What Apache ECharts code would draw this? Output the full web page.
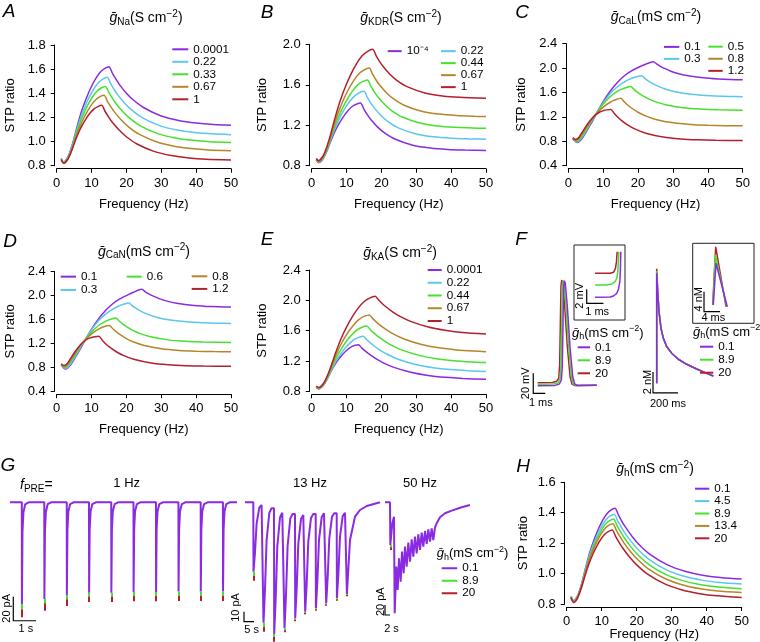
<!DOCTYPE html>
<html><head><meta charset="utf-8">
<script src="https://cdn.jsdelivr.net/npm/echarts@6/dist/echarts.min.js"></script>
<style>html,body{margin:0;padding:0;background:#fff}#c{width:760px;height:642px}</style>
</head><body><div id="c"></div>
<script>
// ================= DATA =================
// STP ratio vs stimulation frequency (Hz): [frequency, ratio]
const NA_LEVELS = ['0.0001','0.22','0.33','0.67','1'];
const NA_0_0001 = [[1.3,0.86],[2,0.83],[3.3,0.877],[4.6,0.988],[5.9,1.13],[7.2,1.257],[8.5,1.359],[9.8,1.446],[11.1,1.517],[12.4,1.573],[13.7,1.604],[15,1.62],[16,1.565],[17,1.517],[18,1.472],[20,1.401],[22,1.344],[25,1.28],[30,1.212],[35,1.175],[40,1.154],[45,1.142],[50,1.136]];
const NA_0_22 = [[1.3,0.86],[2,0.83],[3.25,0.872],[4.5,0.97],[5.75,1.097],[7,1.209],[8.25,1.3],[9.5,1.378],[10.75,1.441],[12,1.49],[13.25,1.518],[14.5,1.532],[15.5,1.478],[16.5,1.431],[17.5,1.387],[19.5,1.318],[21.5,1.262],[24.5,1.198],[29.5,1.132],[34.5,1.096],[39.5,1.076],[44.5,1.064],[50,1.057]];
const NA_0_33 = [[1.3,0.855],[2,0.825],[3.2,0.863],[4.4,0.951],[5.6,1.065],[6.8,1.166],[8,1.248],[9.2,1.318],[10.4,1.375],[11.6,1.419],[12.8,1.444],[14,1.457],[15,1.405],[16,1.358],[17,1.315],[19,1.247],[21,1.192],[24,1.13],[29,1.066],[34,1.03],[39,1.01],[44,0.999],[50,0.992]];
const NA_0_67 = [[1.3,0.85],[2,0.82],[3.16,0.854],[4.32,0.933],[5.48,1.034],[6.64,1.124],[7.8,1.197],[8.96,1.259],[10.12,1.31],[11.28,1.349],[12.44,1.372],[13.6,1.383],[14.6,1.331],[15.6,1.285],[16.6,1.244],[18.6,1.176],[20.6,1.122],[23.6,1.061],[28.6,0.998],[33.6,0.962],[38.6,0.943],[43.6,0.931],[50,0.924]];
const NA_1 = [[1.3,0.85],[2,0.82],[3.09,0.849],[4.18,0.916],[5.27,1.002],[6.36,1.079],[7.45,1.142],[8.54,1.194],[9.63,1.238],[10.72,1.271],[11.81,1.29],[12.9,1.3],[13.9,1.249],[14.9,1.203],[15.9,1.162],[17.9,1.095],[19.9,1.042],[22.9,0.982],[27.9,0.919],[32.9,0.884],[37.9,0.864],[42.9,0.853],[50,0.847]];

const KDR_LEVELS = ['10⁻⁴','0.22','0.44','0.67','1'];
const KDR_1E4 = [[1.3,0.855],[2,0.83],[3.2,0.865],[4.4,0.948],[5.6,1.054],[6.8,1.149],[8,1.225],[9.2,1.29],[10.4,1.343],[11.6,1.385],[12.8,1.408],[14,1.42],[15,1.357],[16,1.302],[17,1.255],[19,1.179],[21,1.122],[24,1.061],[29,1.003],[34,0.975],[39,0.961],[44,0.955],[50,0.951]];
const KDR_0_22 = [[1.3,0.86],[2,0.835],[3.3,0.877],[4.6,0.975],[5.9,1.101],[7.2,1.213],[8.5,1.304],[9.8,1.381],[11.1,1.444],[12.4,1.493],[13.7,1.521],[15,1.535],[16,1.472],[17,1.416],[18,1.369],[20,1.292],[22,1.234],[25,1.172],[30,1.114],[35,1.085],[40,1.071],[45,1.065],[50,1.061]];
const KDR_0_44 = [[1.3,0.86],[2,0.84],[3.4,0.888],[4.8,1.001],[6.2,1.147],[7.6,1.276],[9,1.381],[10.4,1.469],[11.8,1.542],[13.2,1.599],[14.6,1.631],[16,1.647],[17,1.583],[18,1.527],[19,1.479],[21,1.402],[23,1.343],[26,1.281],[31,1.222],[36,1.193],[41,1.179],[46,1.173],[50,1.169]];
const KDR_0_67 = [[1.3,0.865],[2,0.845],[3.45,0.9],[4.9,1.029],[6.35,1.195],[7.8,1.342],[9.25,1.462],[10.7,1.563],[12.15,1.646],[13.6,1.711],[15.05,1.748],[16.5,1.766],[17.5,1.702],[18.5,1.645],[19.5,1.597],[21.5,1.519],[23.5,1.46],[26.5,1.398],[31.5,1.339],[36.5,1.31],[41.5,1.296],[46.5,1.289],[50,1.286]];
const KDR_1 = [[1.3,0.87],[2,0.85],[3.55,0.916],[5.1,1.07],[6.65,1.268],[8.2,1.444],[9.75,1.587],[11.3,1.708],[12.85,1.807],[14.4,1.884],[15.95,1.928],[17.5,1.95],[18.5,1.885],[19.5,1.828],[20.5,1.78],[22.5,1.701],[24.5,1.642],[27.5,1.579],[32.5,1.519],[37.5,1.49],[42.5,1.476],[50,1.467]];

const CAL_LEVELS = ['0.1','0.3','0.5','0.8','1.2'];
const CAL_0_1 = [[1.3,0.84],[2,0.8],[2.5,0.78],[3,0.79],[4,0.85],[5,0.94],[6,1.04],[7,1.14],[8,1.25],[10,1.45],[12,1.62],[14,1.76],[16,1.87],[18,1.95],[20,2.01],[22,2.06],[24.4,2.105],[25.4,2.064],[26.4,2.029],[27.4,1.999],[29.4,1.949],[31.4,1.912],[34.4,1.873],[39.4,1.836],[44.4,1.817],[50,1.808]];
const CAL_0_3 = [[1.3,0.84],[2,0.805],[2.4,0.79],[3,0.8],[4,0.87],[5,0.96],[6,1.06],[7,1.16],[8,1.25],[10,1.43],[12,1.58],[14,1.69],[16,1.77],[18,1.83],[21,1.875],[22,1.828],[23,1.788],[24,1.753],[26,1.697],[28,1.654],[31,1.609],[36,1.566],[41,1.545],[46,1.535],[50,1.531]];
const CAL_0_5 = [[1.3,0.845],[2,0.81],[2.3,0.8],[3,0.82],[4,0.89],[5,0.98],[6,1.08],[7,1.17],[8,1.25],[10,1.41],[12,1.53],[14,1.62],[16,1.67],[17.9,1.7],[18.9,1.647],[19.9,1.602],[20.9,1.562],[22.9,1.499],[24.9,1.45],[27.9,1.4],[32.9,1.351],[37.9,1.328],[42.9,1.316],[50,1.309]];
const CAL_0_8 = [[1.3,0.85],[2,0.815],[2.2,0.81],[3,0.84],[4,0.92],[5,1.01],[6,1.1],[7,1.18],[8,1.25],[10,1.36],[12,1.44],[13.5,1.48],[15.1,1.504],[16.1,1.444],[17.1,1.391],[18.1,1.346],[20.1,1.272],[22.1,1.217],[25.1,1.159],[30.1,1.103],[35.1,1.076],[40.1,1.063],[45.1,1.056],[50,1.053]];
const CAL_1_2 = [[1.3,0.86],[2,0.83],[3,0.86],[4,0.95],[5,1.04],[6,1.12],[7,1.19],[8,1.24],[9,1.28],[10,1.3],[11,1.315],[12.2,1.323],[13.2,1.255],[14.2,1.195],[15.2,1.144],[17.2,1.061],[19.2,0.999],[22.2,0.933],[27.2,0.87],[32.2,0.839],[37.2,0.824],[42.2,0.817],[50,0.813]];

const CAN_LEVELS = ['0.1','0.3','0.6','0.8','1.2'];
const CAN_0_1 = [[1.3,0.84],[2,0.79],[2.5,0.77],[3,0.78],[4,0.84],[5,0.93],[6,1.03],[7,1.13],[8,1.24],[10,1.44],[12,1.61],[14,1.75],[16,1.86],[18,1.94],[20,2.0],[22,2.055],[24.4,2.105],[25.4,2.064],[26.4,2.029],[27.4,1.999],[29.4,1.949],[31.4,1.912],[34.4,1.873],[39.4,1.836],[44.4,1.817],[50,1.808]];
const CAN_0_3 = [[1.3,0.84],[2,0.8],[2.4,0.785],[3,0.795],[4,0.86],[5,0.95],[6,1.05],[7,1.15],[8,1.25],[10,1.43],[12,1.58],[14,1.69],[16,1.77],[18,1.83],[20.7,1.876],[21.7,1.829],[22.7,1.789],[23.7,1.754],[25.7,1.698],[27.7,1.655],[30.7,1.61],[35.7,1.569],[40.7,1.548],[45.7,1.538],[50,1.534]];
const CAN_0_6 = [[1.3,0.845],[2,0.81],[2.3,0.8],[3,0.82],[4,0.89],[5,0.98],[6,1.08],[7,1.17],[8,1.25],[10,1.39],[12,1.5],[14,1.57],[15.5,1.605],[17,1.625],[18,1.57],[19,1.522],[20,1.48],[22,1.413],[24,1.363],[27,1.31],[32,1.259],[37,1.234],[42,1.222],[50,1.214]];
const CAN_0_8 = [[1.3,0.85],[2,0.815],[2.2,0.81],[3,0.84],[4,0.92],[5,1.01],[6,1.1],[7,1.18],[8,1.25],[10,1.36],[12,1.44],[13.5,1.48],[15.1,1.5],[16.1,1.444],[17.1,1.393],[18.1,1.349],[20.1,1.277],[22.1,1.223],[25.1,1.165],[30.1,1.11],[35.1,1.083],[40.1,1.07],[45.1,1.063],[50,1.06]];
const CAN_1_2 = [[1.3,0.86],[2,0.83],[3,0.86],[4,0.95],[5,1.04],[6,1.12],[7,1.19],[8,1.24],[9,1.28],[10,1.3],[11,1.312],[12.1,1.318],[13.1,1.25],[14.1,1.191],[15.1,1.141],[17.1,1.06],[19.1,0.999],[22.1,0.934],[27.1,0.872],[32.1,0.842],[37.1,0.827],[42.1,0.82],[50,0.817]];

const KA_LEVELS = ['0.0001','0.22','0.44','0.67','1'];
const KA_0_0001 = [[1.3,0.855],[2,0.83],[3.14,0.865],[4.28,0.947],[5.42,1.052],[6.56,1.146],[7.7,1.222],[8.84,1.286],[9.98,1.339],[11.12,1.38],[12.26,1.403],[13.4,1.415],[14.4,1.37],[15.4,1.33],[16.4,1.294],[18.4,1.231],[20.4,1.179],[23.4,1.119],[28.4,1.051],[33.4,1.009],[38.4,0.984],[43.4,0.969],[50,0.958]];
const KA_0_22 = [[1.3,0.86],[2,0.835],[3.28,0.876],[4.56,0.973],[5.84,1.097],[7.12,1.208],[8.4,1.297],[9.68,1.373],[10.96,1.435],[12.24,1.484],[13.52,1.511],[14.8,1.525],[15.8,1.48],[16.8,1.438],[17.8,1.401],[19.8,1.337],[21.8,1.285],[24.8,1.223],[29.8,1.154],[34.8,1.112],[39.8,1.086],[44.8,1.071],[50,1.061]];
const KA_0_44 = [[1.3,0.86],[2,0.84],[3.38,0.889],[4.76,1.004],[6.14,1.152],[7.52,1.283],[8.9,1.389],[10.28,1.48],[11.66,1.553],[13.04,1.611],[14.42,1.644],[15.8,1.66],[16.8,1.613],[17.8,1.57],[18.8,1.531],[20.8,1.465],[22.8,1.41],[25.8,1.346],[30.8,1.274],[35.8,1.23],[40.8,1.204],[45.8,1.188],[50,1.18]];
const KA_0_67 = [[1.3,0.865],[2,0.845],[3.45,0.903],[4.9,1.037],[6.35,1.211],[7.8,1.364],[9.25,1.49],[10.7,1.595],[12.15,1.682],[13.6,1.749],[15.05,1.788],[16.5,1.807],[17.5,1.759],[18.5,1.716],[19.5,1.677],[21.5,1.61],[23.5,1.554],[26.5,1.49],[31.5,1.417],[36.5,1.373],[41.5,1.346],[46.5,1.33],[50,1.323]];
const KA_1 = [[1.3,0.87],[2,0.85],[3.62,0.922],[5.24,1.091],[6.86,1.307],[8.48,1.5],[10.1,1.656],[11.72,1.788],[13.34,1.897],[14.96,1.981],[16.58,2.029],[18.2,2.053],[19.2,2.004],[20.2,1.959],[21.2,1.919],[23.2,1.849],[25.2,1.792],[28.2,1.726],[33.2,1.651],[38.2,1.605],[43.2,1.577],[50,1.556]];

const H_LEVELS = ['0.1','4.5','8.9','13.4','20'];
const H_0_1 = [[1.2,0.85],[2,0.82],[3.18,0.857],[4.36,0.942],[5.54,1.051],[6.72,1.149],[7.9,1.228],[9.08,1.295],[10.26,1.35],[11.44,1.392],[12.62,1.417],[13.8,1.429],[14.8,1.384],[15.8,1.342],[16.8,1.305],[18.8,1.241],[20.8,1.188],[23.8,1.126],[28.8,1.057],[33.8,1.015],[38.8,0.989],[43.8,0.974],[50,0.964]];
const H_4_5 = [[1.2,0.85],[2,0.82],[3.16,0.854],[4.32,0.934],[5.48,1.037],[6.64,1.128],[7.8,1.202],[8.96,1.265],[10.12,1.316],[11.28,1.356],[12.44,1.379],[13.6,1.39],[14.6,1.345],[15.6,1.305],[16.6,1.268],[18.6,1.205],[20.6,1.153],[23.6,1.092],[28.6,1.023],[33.6,0.982],[38.6,0.957],[43.6,0.942],[50,0.932]];
const H_8_9 = [[1.2,0.845],[2,0.815],[3.14,0.848],[4.28,0.924],[5.42,1.022],[6.56,1.109],[7.7,1.179],[8.84,1.239],[9.98,1.288],[11.12,1.326],[12.26,1.348],[13.4,1.359],[14.4,1.314],[15.4,1.274],[16.4,1.237],[18.4,1.174],[20.4,1.122],[23.4,1.061],[28.4,0.993],[33.4,0.952],[38.4,0.927],[43.4,0.912],[50,0.901]];
const H_13_4 = [[1.2,0.845],[2,0.815],[3.12,0.846],[4.24,0.918],[5.36,1.01],[6.48,1.092],[7.6,1.159],[8.72,1.215],[9.84,1.261],[10.96,1.297],[12.08,1.318],[13.2,1.328],[14.2,1.284],[15.2,1.244],[16.2,1.207],[18.2,1.145],[20.2,1.094],[23.2,1.033],[28.2,0.966],[33.2,0.925],[38.2,0.9],[43.2,0.885],[50,0.875]];
const H_20 = [[1.2,0.84],[2,0.81],[3.1,0.839],[4.2,0.905],[5.3,0.991],[6.4,1.067],[7.5,1.129],[8.6,1.181],[9.7,1.224],[10.8,1.257],[11.9,1.276],[13,1.286],[14,1.243],[15,1.204],[16,1.168],[18,1.107],[20,1.057],[23,0.998],[28,0.932],[33,0.892],[38,0.868],[43,0.854],[50,0.843]];

// Panel F: presynaptic AP [ms, mV], inset foot [ms, mV rel.], Ca transient [ms, nM], inset peak [ms, nM]
const GH_LEVELS = ['0.1','8.9','20'];
const F_AP_01 = [[0,-70],[1.44,-69.7],[1.8,-68.3],[1.97,-64.3],[2.05,-51],[2.11,-7.6],[2.16,29],[2.22,35],[2.3,32.4],[2.47,9],[2.69,-31],[2.92,-61],[3.08,-68.3],[3.3,-69.8],[4.92,-69.6]];
const F_AP_89 = [[0,-68.5],[1.33,-68.3],[1.69,-67],[1.86,-63.5],[1.94,-50],[2.0,-7],[2.05,29],[2.11,35.3],[2.19,32.6],[2.36,9],[2.58,-31],[2.81,-61],[2.97,-68.4],[3.19,-69.8],[4.92,-69.6]];
const F_AP_20 = [[0,-67],[1.22,-66.8],[1.58,-65.6],[1.75,-62.5],[1.83,-49],[1.89,-6.5],[1.94,29.5],[2.0,35.7],[2.08,33],[2.25,9.5],[2.47,-31],[2.7,-61],[2.86,-68.5],[3.08,-69.8],[4.92,-69.6]];
const F_FOOT_01 = [[0.5,0],[1.4,0.04],[1.6,0.19],[1.8,0.57],[1.9,1.14],[1.98,2.23],[2.01,3.66],[2.04,6.5]];
const F_FOOT_89 = [[0.5,1.76],[1.2,1.76],[1.5,1.9],[1.7,2.23],[1.8,2.71],[1.86,3.66],[1.9,5.33],[1.92,6.5]];
const F_FOOT_20 = [[0.5,3.43],[1.4,3.43],[1.6,3.57],[1.72,4.14],[1.78,5.09],[1.82,6.5]];
const F_CA_01 = [[133.6,0],[133.6,10.48],[141.6,8.72],[152,6.82],[168,5.24],[186.4,4.29],[213.6,3.49],[253.6,2.86],[306.4,2.29],[373.6,1.81],[453.6,1.36],[533.6,0.95],[586.4,0.7]];
const F_CA_89 = [[133.6,0],[133.6,10.7],[141.6,8.76],[152,6.84],[168,5.25],[186.4,4.3],[213.6,3.49],[253.6,2.86],[306.4,2.29],[373.6,1.81],[453.6,1.36],[533.6,0.95],[586.4,0.7]];
const F_CA_20 = [[133.6,0],[133.6,10.9],[141.6,8.8],[152,6.86],[168,5.26],[186.4,4.3],[213.6,3.5],[253.6,2.86],[306.4,2.29],[373.6,1.81],[453.6,1.36],[533.6,0.95],[586.4,0.7]];
const F_PEAK_01 = [[5.15,3.66],[5.83,12],[8.65,3.32]];
const F_PEAK_89 = [[5.08,3.66],[5.65,13.8],[8.5,3.32]];
const F_PEAK_20 = [[5.0,3.66],[5.75,15.3],[8.33,3.32]];

// Panel G: EPSC trains [s, pA]
const G1_TRACE_01 = [[0,0],
 [0.52,0],[0.525,-84.7],[0.55,-25.4],[0.59,-8.5],[0.67,-1.7],[0.82,0],
 [1.51,0],[1.515,-80.6],[1.54,-24.2],[1.58,-8.1],[1.66,-1.6],[1.81,0],
 [2.5,0],[2.505,-77.2],[2.53,-23.2],[2.57,-7.7],[2.65,-1.5],[2.8,0],
 [3.48,0],[3.485,-75.3],[3.51,-22.6],[3.55,-7.5],[3.63,-1.5],[3.78,0],
 [4.46,0],[4.465,-75.3],[4.49,-22.6],[4.53,-7.5],[4.61,-1.5],[4.76,0],
 [5.44,0],[5.445,-74.7],[5.47,-22.4],[5.51,-7.5],[5.59,-1.5],[5.74,0],
 [6.43,0],[6.435,-74.7],[6.46,-22.4],[6.5,-7.5],[6.58,-1.5],[6.73,0],
 [7.42,0],[7.425,-74.4],[7.45,-22.3],[7.49,-7.4],[7.57,-1.5],[7.72,0],
 [8.4,0],[8.405,-74.4],[8.43,-22.3],[8.47,-7.4],[8.55,-1.5],[8.7,0],
 [9.38,0],[9.385,-74.4],[9.41,-22.3],[9.45,-7.4],[9.53,-1.5],[9.68,0],[10,0]];
const G1_TIP_T = [0.525,1.515,2.505,3.485,4.465,5.445,6.435,7.425,8.405,9.385];
const G1_TIP_01 = [-84.7,-80.6,-77.2,-75.3,-75.3,-74.7,-74.7,-74.4,-74.4,-74.4];
const G1_TIP_89 = [-89.2,-84.2,-80.8,-78.6,-78.6,-78,-78,-77.8,-77.8,-77.8];
const G1_TIP_20 = [-95.8,-90.3,-86.4,-83,-83,-82.5,-82.5,-82.2,-82.2,-82.2];

const G13_TRACE_01 = [[0,0],
 [4.15,0],[4.25,-69.4],[5,-50.1],[5.8,-21.4],[7.15,-5.4],[8.3,-2.7],
 [9.15,-2.7],[9.25,-120.4],[10,-87.2],[10.8,-38],[12.15,-10.6],[13.3,-6],
 [14.5,-6],[14.6,-131.7],[15.35,-96.5],[16.15,-44.4],[17.5,-15.2],[18.65,-10.4],
 [19.65,-10.4],[19.75,-126],[20.5,-92.9],[21.3,-43.7],[22.65,-16.3],[23.8,-11.7],
 [25,-11.7],[25.1,-116],[25.85,-86],[26.65,-41.6],[28,-16.8],[29.15,-12.7],
 [30,-12.7],[30.1,-109.4],[30.85,-81.1],[31.65,-39.1],[33,-15.6],[34.15,-11.7],
 [35.35,-11.7],[35.45,-106],[36.2,-78.4],[37,-37.6],[38.35,-14.8],[39.5,-11],
 [40.5,-11],[40.6,-101],[41.35,-74.9],[42.15,-36.2],[43.5,-14.6],[44.65,-11],
 [45.85,-11],[45.95,-96],[46.7,-71.2],[47.5,-34.4],[48.85,-13.8],[50,-10.4],
 [50.85,-10.4],[50.95,-91.7],[52.5,-37.7],[55,-14.4],[57.5,-7.7],[60.85,-3.7],[66.65,-0.4],[67.5,0]];
const G13_TIP_T = [4.25,9.25,14.6,19.75,25.1,30.1,35.45,40.6,45.95,50.95];
const G13_TIP_01 = [-69.4,-120.4,-131.7,-126,-116,-109.4,-106,-101,-96,-91.7];
const G13_TIP_89 = [-73.7,-124.4,-134.4,-128,-117.5,-110.5,-107,-102,-97,-92.7];
const G13_TIP_20 = [-78.4,-129.4,-139.4,-130,-119,-112,-108.5,-103.5,-98.5,-94];

const G50_TRACE_01 = [[0,0],[2,0],[2.13,-85.4],[2.93,-42.1],[3.6,-28.7],[3.87,-222],[4.53,-128.7],[5.07,-175.4],[5.6,-112],[6.27,-158.7],[6.8,-98.7],[7.47,-142],[8,-88.7],[8.67,-128.7],[9.33,-80.7],[10,-118.7],[10.67,-74],[11.33,-108.7],[12,-68.7],[12.67,-102],[13.33,-64],[14,-95.4],[14.67,-60.7],[15.33,-88.7],[16,-57.4],[16.67,-83.4],[17.33,-54],[18,-78.7],[18.67,-52],[19.33,-75.4],[20,-50],[20.67,-42],[22,-30],[24,-22],[26.67,-16.7],[30.67,-10],[34,-5.4]];
const G50_TIP_T = [2.13];
const G50_TIP_01 = [-85.4];
const G50_TIP_89 = [-90.1];
const G50_TIP_20 = [-95.4];

// scale bars: [x, y] corner points in each panel's units
const SB_F_AP = [[-0.37,-57.6],[-0.37,-77.6],[0.63,-77.6]];     // 20 mV, 1 ms
const SB_F_FOOT = [[0,1.14],[0,-0.86],[1,-0.86]];              // 2 mV, 1 ms
const SB_F_CA = [[104,1.08],[104,-0.92],[304,-0.92]];          // 2 nM, 200 ms
const SB_F_PEAK = [[2.83,6.32],[2.83,2.32],[6.83,2.32]];       // 4 nM, 4 ms
const SB_G1 = [[0.145,-78.7],[0.145,-98.7],[1.145,-98.7]];     // 20 pA, 1 s
const SB_G13 = [[-0.5,-109.4],[-0.5,-119.4],[4.5,-119.4]];     // 10 pA, 5 s
const SB_G50 = [[0,-205.4],[0,-225.4],[2,-225.4]];             // 20 pA, 2 s

// ================= CHART =================
const FONT = '"Liberation Sans", Arial, Helvetica, sans-serif';
const C5 = ['#8a2be2','#5bc6ee','#46e02e','#b5852a','#b51e2e'];
const C3 = [C5[0], C5[2], C5[4]];
const grids=[], xAxes=[], yAxes=[], series=[], legends=[], graphics=[];

const axLine = {show:true, onZero:false, lineStyle:{color:'#000', width:1}};
const axTick = {show:true, length:4, inside:false, lineStyle:{color:'#000', width:1}};
const txtSt = {color:'#000', fontSize:13, fontFamily:FONT};

function stpPanel(box, yr, names, datas, yGap, xGap){
  const gi = grids.length;
  grids.push({left:box[0], top:box[1], width:box[2], height:box[3], containLabel:false, outerBoundsMode:'none'});
  xAxes.push({gridIndex:gi, type:'value', min:0, max:50, interval:10, offset:3,
    axisLine:axLine, axisTick:axTick, splitLine:{show:false},
    axisLabel:Object.assign({margin:8}, txtSt),
    name:'Frequency (Hz)', nameLocation:'middle', nameGap:xGap, nameMoveOverlap:false, nameTextStyle:txtSt});
  yAxes.push({gridIndex:gi, type:'value', min:yr[0], max:yr[1], interval:yr[2], offset:2,
    axisLine:axLine, axisTick:axTick, splitLine:{show:false},
    axisLabel:Object.assign({margin:9, formatter:v=>v.toFixed(1)}, txtSt),
    name:'STP ratio', nameLocation:'middle', nameGap:yGap, nameMoveOverlap:false, nameTextStyle:txtSt});
  names.forEach((n,i)=>series.push({type:'line', name:n, xAxisIndex:gi, yAxisIndex:gi, data:datas[i],
    symbol:'none', showSymbol:false, smooth:0.25, lineStyle:{color:C5[i], width:1.5}, itemStyle:{color:C5[i]}, z:2}));
}
function rawGrid(box, xr, yr, border){
  const gi = grids.length;
  grids.push({left:box[0], top:box[1], width:box[2], height:box[3], containLabel:false, outerBoundsMode:'none',
    show:!!border, borderColor:'#222', borderWidth:1, backgroundColor:'rgba(0,0,0,0)'});
  xAxes.push({gridIndex:gi, type:'value', min:xr[0], max:xr[1], show:false});
  yAxes.push({gridIndex:gi, type:'value', min:yr[0], max:yr[1], show:false});
  return gi;
}
function trace(gi, name, data, color, w){
  series.push({type:'line', name, xAxisIndex:gi, yAxisIndex:gi, data, symbol:'none', showSymbol:false,
    lineStyle:{color, width:w}, itemStyle:{color}, z:3});
}
function segs(gi, list, color, w, poly){
  series.push({type:'lines', coordinateSystem:'cartesian2d', xAxisIndex:gi, yAxisIndex:gi, polyline:!!poly,
    data:list.map(c=>({coords:c})), lineStyle:{color, width:w, opacity:1, curveness:0}, silent:true, z:4});
}
function tips(gi, T, P, G, R, w){
  segs(gi, T.map((t,i)=>[[t,P[i]],[t,G[i]]]), C3[1], w);
  segs(gi, T.map((t,i)=>[[t,G[i]],[t,R[i]]]), C3[2], w);
}
function leg(names, left, top, lh, iw){
  legends.push({data:names, left, top, orient:'vertical', itemWidth:iw, itemHeight:2, itemGap:0, icon:'rect',
    padding:0, selectedMode:false, itemStyle:{borderWidth:0},
    textStyle:{color:'#000', fontSize:11.7, lineHeight:lh, fontFamily:FONT}});
}
function txt(x, y, text, size, o){
  o = o || {};
  graphics.push({type:'text', x, y, rotation:o.rot||0, silent:true, z:100,
    style:{text, fill:'#000', font:(o.italic?'italic ':'')+size+'px '+FONT, textAlign:o.align||'center', textVerticalAlign:'middle'}});
}
function gTitle(x, y, sub, unit, size, align){
  const ss = Math.round(size*0.72);
  const base = {fontSize:size, fontFamily:FONT, fill:'#000', lineHeight:size+4};
  graphics.push({type:'text', x, y, silent:true, z:100,
    style:{text:'{g|ḡ}{s|'+sub+'}{n|('+unit+' cm}{p|−2}{n|)}', textAlign:align||'center', textVerticalAlign:'middle',
      rich:{g:Object.assign({fontStyle:'italic'}, base), n:base,
        s:{fontSize:ss, fontFamily:FONT, fill:'#000', lineHeight:ss, verticalAlign:'bottom'},
        p:{fontSize:ss, fontFamily:FONT, fill:'#000', lineHeight:ss, verticalAlign:'top'}}}});
}

// STP panels A-E, H
stpPanel([56.7,45,174.3,120.7],[0.8,1.8,0.2], NA_LEVELS, [NA_0_0001,NA_0_22,NA_0_33,NA_0_67,NA_1], 38, 29);
stpPanel([311.7,44.3,174.3,121.4],[0.8,2.0,0.4], KDR_LEVELS, [KDR_1E4,KDR_0_22,KDR_0_44,KDR_0_67,KDR_1], 41, 29);
stpPanel([568.3,43.7,174.4,122],[0.4,2.4,0.4], CAL_LEVELS, [CAL_0_1,CAL_0_3,CAL_0_5,CAL_0_8,CAL_1_2], 38, 29);
stpPanel([56.7,271.7,174.3,119.5],[0.4,2.4,0.4], CAN_LEVELS, [CAN_0_1,CAN_0_3,CAN_0_6,CAN_0_8,CAN_1_2], 38, 29);
stpPanel([311.7,270,174.3,121.3],[0.8,2.4,0.4], KA_LEVELS, [KA_0_0001,KA_0_22,KA_0_44,KA_0_67,KA_1], 41, 29);
stpPanel([566.7,482.3,175,121.7],[0.8,1.6,0.2], H_LEVELS, [H_0_1,H_4_5,H_8_9,H_13_4,H_20], 35, 21);

// Panel F
const gAP = rawGrid([525.7,275.7,78,140],[-1,5.5],[-100,40]);
const gFoot = rawGrid([574,245,51,75],[-0.76,2.29],[-3.24,7.47], true);
const gCa = rawGrid([640,257.3,80,147],[0,640],[-2,12]);
const gPeak = rawGrid([692.7,243.3,61.3,80],[0,15.33],[0,16], true);
[[F_AP_20,2],[F_AP_89,1],[F_AP_01,0]].forEach(([d,i])=>trace(gAP, GH_LEVELS[i], d, C3[i], 1.5));
[[F_FOOT_20,2],[F_FOOT_89,1],[F_FOOT_01,0]].forEach(([d,i])=>trace(gFoot, GH_LEVELS[i], d, C3[i], 1.5));
[[F_CA_20,2],[F_CA_89,1],[F_CA_01,0]].forEach(([d,i])=>trace(gCa, GH_LEVELS[i], d, C3[i], 1.5));
[[F_PEAK_20,2],[F_PEAK_89,1],[F_PEAK_01,0]].forEach(([d,i])=>trace(gPeak, GH_LEVELS[i], d, C3[i], 1.5));
segs(gAP,[SB_F_AP],'#000',1.2,true); segs(gFoot,[SB_F_FOOT],'#000',1.2,true);
segs(gCa,[SB_F_CA],'#000',1.2,true); segs(gPeak,[SB_F_PEAK],'#000',1.2,true);

// Panel G
const g1 = rawGrid([10,490.3,227,144],[0,10],[-110,10]);
const g13 = rawGrid([235,492.3,150,152],[-5,70],[-142,10]);
const g50 = rawGrid([375,492.3,100,150],[-4,36],[-280,20]);
trace(g1,'0.1',G1_TRACE_01,C3[0],2); tips(g1,G1_TIP_T,G1_TIP_01,G1_TIP_89,G1_TIP_20,2);
trace(g13,'0.1',G13_TRACE_01,C3[0],2); tips(g13,G13_TIP_T,G13_TIP_01,G13_TIP_89,G13_TIP_20,2);
trace(g50,'0.1',G50_TRACE_01,C3[0],2); tips(g50,G50_TIP_T,G50_TIP_01,G50_TIP_89,G50_TIP_20,2);
segs(g1,[SB_G1],'#000',1.2,true); segs(g13,[SB_G13],'#000',1.2,true); segs(g50,[SB_G50],'#000',1.2,true);

// Legends
leg(NA_LEVELS, 172.3, 43.05, 12.5, 16);
leg(['10⁻⁴'], 387.7, 45.15, 11.7, 14);
leg(['0.22','0.44','0.67','1'], 441, 45.15, 11.7, 14.7);
leg(['0.1','0.3'], 664, 40.9, 11.6, 15.3);
leg(['0.5','0.8','1.2'], 708.3, 40.6, 12.1, 14.4);
leg(['0.1','0.3'], 60.7, 270, 13.3, 15.3);
leg(['0.6'], 126.7, 270, 13.3, 15);
leg(['0.8','1.2'], 191.7, 270, 12.6, 15.6);
leg(KA_LEVELS, 427.7, 263.6, 12.75, 14);
leg(H_LEVELS, 695, 482.5, 12.4, 14.3);
leg(GH_LEVELS, 577.7, 340.8, 13, 12.3);
leg(GH_LEVELS, 700, 340.2, 13, 13.3);
leg(GH_LEVELS, 441.7, 562, 12.5, 15.6);

// Titles & labels
gTitle(146,18.3,'Na','S',14); gTitle(401,18,'KDR','S',14); gTitle(656,17,'CaL','mS',14);
gTitle(144,251.7,'CaN','mS',14); gTitle(400,253,'KA','S',14); gTitle(655,469.3,'h','mS',14);
gTitle(572,333,'h','mS',13,'left'); gTitle(693,332,'h','mS',13,'left'); gTitle(436.7,553.3,'h','mS',13,'left');
[['A',9.2,11.7],['B',267,12.5],['C',522,12.5],['D',10,241.7],['E',267,240],['F',521,240],['G',8,466],['H',523,466.7]]
  .forEach(([t,x,y])=>txt(x,y,t,19,{italic:true}));
graphics.push({type:'text', x:20, y:485, silent:true, z:100, style:{text:'{f|f}{s|PRE}{n|=}', textAlign:'left', textVerticalAlign:'middle',
  rich:{f:{fontSize:14, fontStyle:'italic', fontFamily:FONT, fill:'#000', lineHeight:18}, n:{fontSize:14, fontFamily:FONT, fill:'#000', lineHeight:18},
    s:{fontSize:10, fontFamily:FONT, fill:'#000', lineHeight:10, verticalAlign:'bottom'}}}});
txt(126.7,483.3,'1 Hz',13); txt(310,483.3,'13 Hz',13); txt(420,483,'50 Hz',13);
const R = Math.PI/2;
txt(6.7,608.3,'20 pA',11,{rot:R}); txt(25.8,629,'1 s',11);
txt(236,607.5,'10 pA',11,{rot:R}); txt(251.7,629.5,'5 s',11);
txt(381,601.7,'20 pA',11,{rot:R}); txt(391.5,629,'2 s',11);
txt(525.7,383.3,'20 mV',11,{rot:R}); txt(540.8,403,'1 ms',11);
txt(580.3,295.8,'2 mV',11,{rot:R}); txt(597.2,312.2,'1 ms',11);
txt(647.5,382,'2 nM',11,{rot:R}); txt(668,404,'200 ms',11);
txt(699.2,299.2,'4 nM',11,{rot:R}); txt(713.3,317.5,'4 ms',11);

const chart = echarts.init(document.getElementById('c'), null, {renderer:'canvas'});
chart.setOption({animation:false, backgroundColor:'#fff', textStyle:{fontFamily:FONT},
  grid:grids, xAxis:xAxes, yAxis:yAxes, legend:legends, series, graphic:{elements:graphics}});
</script></body></html>
